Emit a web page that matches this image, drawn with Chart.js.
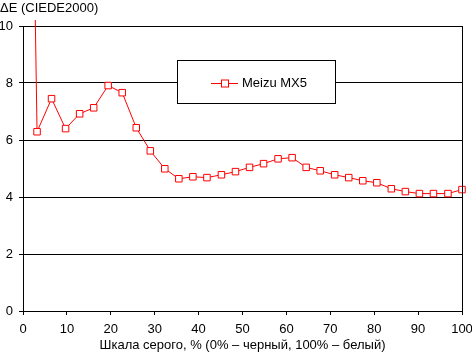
<!DOCTYPE html>
<html>
<head>
<meta charset="utf-8">
<script src="https://cdn.jsdelivr.net/npm/chart.js@4.4.0/dist/chart.umd.min.js"></script>
<style>
html,body{margin:0;padding:0;background:#fff;}
#wrap{width:472px;height:352px;}
</style>
</head>
<body>
<div id="wrap"><canvas id="c" width="472" height="352"></canvas></div>
<script>
const grayLevels = [0, 3.2, 6.5, 9.7, 12.9, 16.1, 19.4, 22.6, 25.8, 29.0, 32.3, 35.5, 38.7, 41.9, 45.2, 48.4, 51.6, 54.8, 58.1, 61.3, 64.5, 67.7, 71.0, 74.2, 77.4, 80.6, 83.9, 87.1, 90.3, 93.5, 96.8, 100];
const deltaE = [38, 6.29, 7.45, 6.40, 6.92, 7.13, 7.91, 7.66, 6.43, 5.62, 4.99, 4.64, 4.71, 4.68, 4.78, 4.89, 5.04, 5.17, 5.34, 5.38, 5.04, 4.92, 4.78, 4.68, 4.57, 4.50, 4.29, 4.19, 4.12, 4.12, 4.12, 4.26];
const seriesName = 'Meizu MX5';
const yTitle = 'ΔE (CIEDE2000)';
const xTitle = 'Шкала серого, % (0% – черный, 100% – белый)';
const xTicks = [0, 10, 20, 30, 40, 50, 60, 70, 80, 90, 100];
const yTicks = [0, 2, 4, 6, 8, 10];

const FONT = '"Liberation Sans", Arial, sans-serif';

const extras = {
  id: 'extras',
  afterDatasetsDraw(chart) {
    const ctx = chart.ctx;
    const a = chart.chartArea;
    ctx.save();
    // right border
    ctx.strokeStyle = '#000';
    ctx.lineWidth = 1;
    ctx.beginPath();
    ctx.moveTo(Math.round(a.right) + 0.5, a.top);
    ctx.lineTo(Math.round(a.right) + 0.5, a.bottom);
    ctx.stroke();
    // y title
    ctx.fillStyle = '#000';
    ctx.font = '13px ' + FONT;
    ctx.textBaseline = 'middle';
    ctx.textAlign = 'left';
    ctx.fillText(yTitle, 0, 8);
    // legend box
    const bx = 177.5, by = 60.5, bw = 158, bh = 43;
    ctx.fillStyle = '#fff';
    ctx.fillRect(bx, by, bw, bh);
    ctx.strokeStyle = '#000';
    ctx.strokeRect(bx, by, bw, bh);
    const ly = 83.5;
    ctx.strokeStyle = '#ff0000';
    ctx.beginPath();
    ctx.moveTo(211, ly);
    ctx.lineTo(238, ly);
    ctx.stroke();
    ctx.fillStyle = '#fff';
    ctx.fillRect(221.5, ly - 3.5, 7, 7);
    ctx.strokeRect(221.5, ly - 3.5, 7, 7);
    ctx.fillStyle = '#000';
    ctx.font = '13px ' + FONT;
    ctx.textBaseline = 'middle';
    ctx.fillText(seriesName, 242, ly);
    ctx.restore();
  }
};

new Chart(document.getElementById('c'), {
  type: 'line',
  data: {
    datasets: [{
      label: seriesName,
      data: grayLevels.map((x, i) => ({x: x, y: deltaE[i]})),
      borderColor: '#ff0000',
      borderWidth: 1,
      backgroundColor: '#ffffff',
      pointStyle: 'rect',
      pointRadius: 4.6,
      pointBorderWidth: 1,
      pointBorderColor: '#ff0000',
      pointBackgroundColor: '#ffffff',
      tension: 0,
      clip: {left: 0, top: 6, right: 6, bottom: 0}
    }]
  },
  options: {
    responsive: false,
    animation: false,
    devicePixelRatio: 1,
    layout: {padding: {top: 26, right: 10, left: 0, bottom: 0}},
    plugins: {legend: {display: false}, tooltip: {enabled: false}, title: {display: false}},
    scales: {
      x: {
        type: 'linear', min: 0, max: 100,
        afterBuildTicks: s => { s.ticks = xTicks.map(v => ({value: v})); },
        afterFit: s => { s.height = 41; s.paddingLeft = 0; s.paddingRight = 0; },
        grid: {display: true, drawOnChartArea: false, drawTicks: true, tickLength: 4, color: '#000'},
        border: {display: true, color: '#000', width: 1},
        ticks: {color: '#000', font: {family: FONT, size: 13}, padding: 7, maxRotation: 0, autoSkip: false},
        title: {display: true, text: xTitle, color: '#000', font: {family: FONT, size: 13, lineHeight: 1}, padding: {top: 0, bottom: 0}}
      },
      y: {
        min: 0, max: 10,
        afterBuildTicks: s => { s.ticks = yTicks.map(v => ({value: v})); },
        afterFit: s => { s.width = 23; s.paddingTop = 0; s.paddingBottom = 0; },
        grid: {display: true, drawOnChartArea: true, drawTicks: true, tickLength: 4, color: '#000'},
        border: {display: true, color: '#000', width: 1},
        ticks: {color: '#000', font: {family: FONT, size: 13}, padding: 6}
      }
    }
  },
  plugins: [extras]
});
</script>
</body>
</html>
